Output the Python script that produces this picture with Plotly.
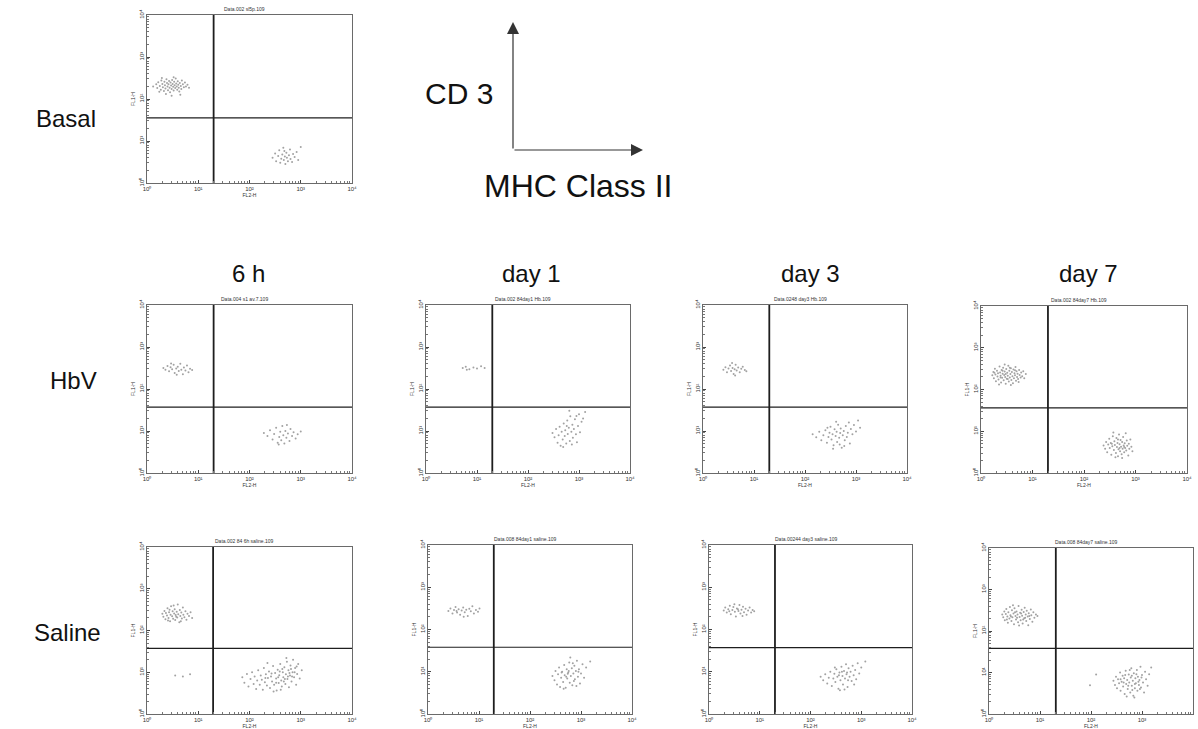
import plotly.graph_objects as go

# ---------------- data (log10 decades of fluorescence) ----------------
row_labels = ["Basal", "HbV", "Saline"]
col_labels = ["6 h", "day 1", "day 3", "day 7"]
tick_labels = ["10\u2070", "10\u00b9", "10\u00b2", "10\u00b3", "10\u2074"]
tick_values = [1, 10, 100, 1000, 10000]
x_axis_label = "FL2-H"
y_axis_label = "FL1-H"
arrow_y_label = "CD 3"
arrow_x_label = "MHC Class II"

panel_titles = [
    "Data.002 sl5p.109",
    "Data.004 s1 av.7.109",
    "Data.002 84day1 Hb.109",
    "Data.0248 day3 Hb.109",
    "Data.002 84day7 Hb.109",
    "Data.002 84 6h saline.109",
    "Data.008 84day1 saline.109",
    "Data.00244 day3 saline.109",
    "Data.008 84day7 saline.109",
]

# quadrant gates (log10 FL2, log10 FL1) per panel
gate_x = [1.30, 1.30, 1.30, 1.30, 1.30, 1.29, 1.29, 1.30, 1.31]
gate_y = [1.55, 1.57, 1.57, 1.57, 1.56, 1.57, 1.58, 1.57, 1.58]

basal_cd3 = [(0.12,2.30),(0.18,2.35),(0.20,2.26),(0.22,2.40),(0.25,2.31),(0.27,2.22),(0.28,2.44),(0.30,2.36),(0.31,2.28),(0.33,2.19),(0.34,2.41),(0.35,2.33),(0.36,2.25),(0.38,2.47),(0.39,2.38),(0.40,2.30),(0.41,2.21),(0.42,2.35),(0.43,2.43),(0.44,2.27),(0.45,2.16),(0.46,2.39),(0.47,2.32),(0.48,2.24),(0.49,2.45),(0.50,2.36),(0.51,2.29),(0.52,2.20),(0.53,2.41),(0.54,2.33),(0.55,2.26),(0.56,2.49),(0.57,2.37),(0.58,2.30),(0.59,2.22),(0.60,2.42),(0.61,2.34),(0.62,2.27),(0.63,2.18),(0.64,2.38),(0.66,2.31),(0.67,2.24),(0.68,2.44),(0.70,2.35),(0.72,2.28),(0.74,2.39),(0.76,2.30),(0.79,2.34),(0.82,2.27),(0.37,2.12),(0.48,2.08),(0.29,2.50),(0.52,2.52),(0.24,2.17),(0.65,2.10)]
basal_mhc = [(2.45,0.60),(2.50,0.70),(2.52,0.52),(2.56,0.64),(2.58,0.78),(2.60,0.48),(2.62,0.58),(2.64,0.68),(2.66,0.84),(2.67,0.55),(2.69,0.63),(2.70,0.45),(2.72,0.72),(2.73,0.60),(2.75,0.52),(2.77,0.66),(2.79,0.80),(2.80,0.57),(2.83,0.50),(2.85,0.69),(2.88,0.62),(2.92,0.74),(2.95,0.55),(3.00,0.86),(2.68,0.76)]

hbv6h_cd3 = [(0.32,2.50),(0.36,2.46),(0.40,2.55),(0.43,2.42),(0.46,2.52),(0.49,2.47),(0.52,2.58),(0.54,2.38),(0.57,2.49),(0.60,2.53),(0.62,2.43),(0.65,2.60),(0.67,2.46),(0.70,2.35),(0.72,2.51),(0.75,2.44),(0.78,2.56),(0.81,2.40),(0.84,2.48),(0.88,2.45),(0.58,2.34),(0.47,2.61)]
hbv6h_mhc = [(2.28,0.95),(2.35,0.88),(2.40,1.02),(2.45,0.80),(2.48,0.93),(2.52,1.08),(2.55,0.72),(2.58,0.86),(2.60,0.98),(2.62,0.78),(2.64,1.12),(2.66,0.90),(2.68,0.70),(2.70,1.00),(2.72,0.84),(2.75,0.94),(2.78,0.76),(2.80,1.05),(2.83,0.88),(2.86,0.97),(2.90,0.82),(2.94,0.92),(3.00,0.99),(2.57,0.68),(2.73,1.14)]

hbvd1_cd3 = [(0.72,2.50),(0.78,2.53),(0.85,2.47),(0.93,2.51),(1.00,2.49),(1.08,2.54),(1.15,2.50),(0.80,2.46)]
hbvd1_mhc = [(2.48,0.95),(2.52,0.85),(2.55,1.05),(2.58,0.72),(2.60,0.90),(2.62,1.10),(2.64,0.65),(2.66,0.98),(2.68,0.80),(2.70,1.18),(2.72,0.88),(2.73,1.02),(2.75,0.70),(2.77,1.25),(2.78,0.93),(2.80,1.08),(2.82,0.76),(2.83,1.35),(2.85,0.98),(2.87,1.15),(2.88,0.84),(2.90,1.05),(2.92,1.28),(2.94,0.92),(2.96,0.73),(2.98,1.12),(3.00,1.40),(3.02,0.97),(3.05,1.22),(3.08,1.30),(3.12,1.45),(2.81,1.48),(2.69,0.62),(2.95,1.36),(2.76,1.12),(2.86,0.68)]

hbvd3_cd3 = [(0.40,2.46),(0.44,2.52),(0.47,2.40),(0.50,2.49),(0.53,2.56),(0.55,2.43),(0.58,2.50),(0.60,2.36),(0.62,2.47),(0.64,2.58),(0.66,2.44),(0.69,2.51),(0.72,2.40),(0.75,2.48),(0.78,2.53),(0.82,2.45),(0.85,2.42),(0.57,2.62),(0.63,2.32)]
hbvd3_mhc = [(2.15,0.92),(2.22,0.85),(2.28,0.98),(2.32,0.78),(2.36,0.90),(2.40,1.02),(2.43,0.72),(2.46,0.86),(2.48,0.96),(2.50,1.10),(2.52,0.80),(2.54,0.92),(2.56,0.66),(2.58,1.04),(2.60,0.88),(2.62,0.98),(2.63,0.74),(2.65,1.15),(2.67,0.84),(2.69,0.95),(2.70,1.06),(2.72,0.60),(2.74,0.90),(2.76,1.00),(2.78,0.78),(2.80,1.12),(2.82,0.86),(2.84,0.96),(2.86,1.20),(2.88,0.70),(2.90,1.05),(2.93,0.92),(2.96,1.14),(3.00,0.99),(3.04,1.25),(3.08,1.08),(2.55,0.58),(2.68,0.68),(2.44,1.08),(2.77,0.64),(2.61,1.22)]

hbvd7_cd3 = [(0.22,2.34),(0.24,2.42),(0.25,2.27),(0.27,2.50),(0.28,2.36),(0.29,2.20),(0.31,2.45),(0.32,2.31),(0.33,2.39),(0.34,2.24),(0.36,2.55),(0.37,2.41),(0.38,2.33),(0.39,2.17),(0.40,2.47),(0.41,2.28),(0.42,2.38),(0.43,2.52),(0.44,2.22),(0.45,2.35),(0.46,2.43),(0.47,2.30),(0.48,2.14),(0.49,2.49),(0.50,2.26),(0.51,2.40),(0.52,2.33),(0.53,2.57),(0.54,2.19),(0.55,2.45),(0.56,2.29),(0.57,2.37),(0.58,2.51),(0.59,2.23),(0.60,2.42),(0.61,2.32),(0.62,2.15),(0.63,2.48),(0.64,2.27),(0.65,2.39),(0.66,2.34),(0.67,2.54),(0.68,2.21),(0.69,2.44),(0.70,2.30),(0.71,2.38),(0.72,2.25),(0.74,2.47),(0.75,2.35),(0.77,2.29),(0.78,2.41),(0.80,2.32),(0.82,2.44),(0.84,2.27),(0.87,2.37),(0.35,2.12),(0.46,2.60),(0.58,2.11),(0.26,2.40),(0.42,2.45),(0.52,2.25),(0.66,2.46),(0.73,2.18),(0.48,2.37),(0.38,2.29),(0.56,2.52)]
hbvd7_mhc = [(2.38,0.66),(2.41,0.58),(2.43,0.74),(2.45,0.50),(2.47,0.68),(2.49,0.82),(2.50,0.60),(2.52,0.72),(2.53,0.44),(2.55,0.64),(2.56,0.88),(2.58,0.55),(2.59,0.76),(2.60,0.67),(2.62,0.48),(2.63,0.84),(2.64,0.62),(2.65,0.72),(2.66,0.40),(2.67,0.57),(2.68,0.92),(2.69,0.69),(2.70,0.52),(2.71,0.79),(2.72,0.63),(2.73,0.45),(2.74,0.74),(2.75,0.58),(2.76,0.86),(2.77,0.66),(2.78,0.50),(2.79,0.71),(2.80,0.60),(2.81,0.95),(2.82,0.54),(2.83,0.78),(2.84,0.65),(2.86,0.42),(2.87,0.70),(2.88,0.58),(2.90,0.80),(2.92,0.63),(2.94,0.52),(2.61,0.38),(2.57,0.97),(2.74,0.36),(2.66,0.80),(2.69,0.60),(2.78,0.62),(2.54,0.70)]

sal6h_cd3 = [(0.30,2.40),(0.32,2.33),(0.34,2.47),(0.36,2.27),(0.37,2.42),(0.39,2.36),(0.40,2.53),(0.42,2.30),(0.43,2.44),(0.45,2.22),(0.46,2.38),(0.47,2.58),(0.49,2.34),(0.50,2.46),(0.51,2.28),(0.53,2.41),(0.54,2.51),(0.55,2.25),(0.56,2.37),(0.58,2.45),(0.59,2.31),(0.60,2.62),(0.61,2.39),(0.63,2.20),(0.64,2.49),(0.65,2.35),(0.67,2.43),(0.68,2.29),(0.70,2.55),(0.71,2.38),(0.73,2.32),(0.75,2.46),(0.77,2.26),(0.79,2.40),(0.82,2.35),(0.85,2.44),(0.88,2.30),(0.44,2.50),(0.57,2.33),(0.41,2.24),(0.52,2.60),(0.66,2.22)]
sal6h_mhc = [(1.86,0.88),(1.90,0.75),(1.95,0.96),(1.98,0.66),(2.02,0.84),(2.05,1.00),(2.08,0.72),(2.10,0.90),(2.13,0.60),(2.15,0.80),(2.17,1.05),(2.20,0.70),(2.22,0.92),(2.24,0.82),(2.26,0.58),(2.28,1.10),(2.30,0.76),(2.32,0.95),(2.34,0.68),(2.36,0.86),(2.38,1.02),(2.40,0.62),(2.42,0.90),(2.44,0.78),(2.46,1.15),(2.48,0.70),(2.50,0.98),(2.52,0.85),(2.53,0.56),(2.55,1.06),(2.57,0.74),(2.58,0.93),(2.60,1.20),(2.62,0.80),(2.63,0.66),(2.65,1.00),(2.66,0.88),(2.68,1.12),(2.70,0.72),(2.71,0.95),(2.73,1.25),(2.74,0.84),(2.76,1.05),(2.77,0.64),(2.79,0.92),(2.80,1.16),(2.82,0.78),(2.84,1.00),(2.85,1.30),(2.87,0.88),(2.89,1.10),(2.91,0.70),(2.93,0.96),(2.95,1.20),(2.98,0.85),(3.02,1.05),(2.35,1.22),(2.47,0.54),(2.61,0.58),(2.72,1.34),(2.56,0.88),(2.67,0.78),(2.78,0.98),(2.43,0.97),(2.31,0.86),(2.83,0.90),(2.69,0.84),(2.59,1.02),(2.88,1.00),(2.52,0.75),(2.64,1.08),(2.75,0.90),(2.92,1.14),(2.81,1.08),(0.55,0.92),(0.70,0.90),(0.84,0.95)]

sald1_cd3 = [(0.40,2.44),(0.44,2.50),(0.48,2.38),(0.51,2.46),(0.54,2.53),(0.57,2.40),(0.60,2.48),(0.63,2.35),(0.66,2.45),(0.69,2.52),(0.72,2.41),(0.75,2.47),(0.78,2.32),(0.81,2.49),(0.84,2.43),(0.87,2.55),(0.90,2.38),(0.94,2.46),(0.98,2.42),(1.01,2.50),(0.70,2.30),(0.56,2.44)]
sald1_mhc = [(2.44,0.90),(2.48,0.80),(2.50,1.02),(2.53,0.70),(2.55,0.94),(2.57,1.10),(2.59,0.64),(2.61,0.86),(2.63,1.00),(2.65,0.76),(2.67,1.16),(2.68,0.92),(2.70,0.62),(2.72,1.06),(2.73,0.84),(2.75,0.98),(2.77,1.22),(2.78,0.74),(2.80,0.90),(2.82,1.08),(2.83,0.68),(2.85,0.96),(2.87,1.14),(2.88,0.82),(2.90,1.02),(2.92,1.26),(2.94,0.88),(2.96,1.06),(2.98,0.72),(3.00,0.96),(3.03,1.18),(3.06,0.86),(3.10,1.10),(3.18,1.24),(2.79,1.34),(2.66,0.60),(2.91,0.66),(2.71,0.88),(2.84,1.20),(2.62,0.98),(2.76,1.02),(2.95,1.00),(2.86,0.78),(2.74,0.95)]

sald3_cd3 = [(0.29,2.45),(0.32,2.52),(0.35,2.40),(0.38,2.48),(0.41,2.56),(0.43,2.36),(0.46,2.46),(0.48,2.53),(0.51,2.42),(0.53,2.31),(0.55,2.50),(0.58,2.44),(0.60,2.58),(0.62,2.38),(0.64,2.47),(0.67,2.54),(0.69,2.41),(0.72,2.49),(0.74,2.35),(0.77,2.45),(0.80,2.52),(0.83,2.40),(0.86,2.46),(0.89,2.43),(0.50,2.60),(0.66,2.32),(0.40,2.43),(0.57,2.48)]
sald3_mhc = [(2.20,0.88),(2.25,0.80),(2.29,0.94),(2.33,0.72),(2.36,0.86),(2.39,1.00),(2.42,0.66),(2.45,0.84),(2.47,0.95),(2.49,0.76),(2.51,1.06),(2.53,0.88),(2.55,0.60),(2.57,0.98),(2.59,0.80),(2.61,1.12),(2.63,0.90),(2.64,0.70),(2.66,1.02),(2.68,0.84),(2.70,1.18),(2.71,0.94),(2.73,0.64),(2.75,1.08),(2.77,0.88),(2.79,1.00),(2.81,0.78),(2.83,1.14),(2.85,0.92),(2.88,1.04),(2.90,0.82),(2.93,1.20),(2.96,0.96),(3.00,1.10),(3.08,1.24),(2.58,0.56),(2.67,0.58),(2.48,1.10),(2.74,0.80),(2.62,1.00),(2.86,0.70),(2.72,0.98),(2.56,0.92)]

sald7_cd3 = [(0.26,2.40),(0.28,2.33),(0.30,2.47),(0.31,2.26),(0.33,2.41),(0.34,2.53),(0.36,2.35),(0.37,2.20),(0.38,2.45),(0.40,2.30),(0.41,2.58),(0.42,2.38),(0.44,2.24),(0.45,2.50),(0.46,2.33),(0.48,2.42),(0.49,2.16),(0.50,2.55),(0.52,2.36),(0.53,2.28),(0.54,2.47),(0.56,2.40),(0.57,2.21),(0.58,2.60),(0.60,2.34),(0.61,2.44),(0.62,2.26),(0.64,2.51),(0.65,2.37),(0.66,2.18),(0.68,2.46),(0.69,2.31),(0.70,2.56),(0.72,2.40),(0.73,2.24),(0.74,2.49),(0.76,2.35),(0.77,2.14),(0.78,2.43),(0.80,2.29),(0.82,2.52),(0.83,2.38),(0.85,2.22),(0.87,2.45),(0.89,2.32),(0.92,2.40),(0.95,2.36),(0.47,2.62),(0.59,2.13),(0.35,2.28),(0.63,2.42),(0.71,2.32),(0.51,2.45),(0.43,2.35),(0.79,2.36),(0.55,2.32),(0.67,2.28)]
sald7_mhc = [(2.44,0.80),(2.47,0.70),(2.49,0.90),(2.51,0.62),(2.53,0.84),(2.55,0.74),(2.57,1.00),(2.58,0.56),(2.60,0.78),(2.62,0.92),(2.63,0.66),(2.65,0.86),(2.66,0.48),(2.68,1.04),(2.69,0.72),(2.71,0.82),(2.72,0.60),(2.74,0.95),(2.75,0.76),(2.77,0.52),(2.78,0.88),(2.79,1.10),(2.80,0.68),(2.82,0.80),(2.83,0.44),(2.84,0.98),(2.86,0.62),(2.87,0.86),(2.88,0.74),(2.90,1.06),(2.91,0.56),(2.92,0.90),(2.94,0.70),(2.95,0.82),(2.97,1.14),(2.98,0.64),(3.00,0.94),(3.02,0.76),(3.04,0.52),(3.06,1.02),(3.08,0.84),(3.11,0.68),(3.14,0.96),(3.18,1.12),(2.70,0.42),(2.85,0.40),(2.76,1.06),(2.89,0.96),(2.64,0.76),(2.81,0.58),(2.93,0.78),(2.73,0.68),(2.99,0.88),(2.67,0.94),(2.96,0.60),(2.80,0.92),(2.86,0.72),(2.58,0.84),(1.98,0.69),(2.10,0.95)]

panel_events = [
    basal_cd3 + basal_mhc,
    hbv6h_cd3 + hbv6h_mhc,
    hbvd1_cd3 + hbvd1_mhc,
    hbvd3_cd3 + hbvd3_mhc,
    hbvd7_cd3 + hbvd7_mhc,
    sal6h_cd3 + sal6h_mhc,
    sald1_cd3 + sald1_mhc,
    sald3_cd3 + sald3_mhc,
    sald7_cd3 + sald7_mhc,
]

# ---------------- layout (pixel boxes of each dot plot: left, right, top, bottom) ----------------
W, H = 1198, 729
panel_boxes = [
    (147, 352, 15, 183),
    (147, 352, 305, 473), (426, 630, 305, 473), (703, 907, 305, 473), (981, 1187, 306, 473),
    (147, 352, 547, 714), (428, 632, 545, 714), (709, 912, 545, 714), (989, 1193, 548, 714),
]

FONT = "Liberation Sans, Arial, Helvetica, sans-serif"
DOT = "#a2a2a2"
GATE = "#1e1e1e"
FRAME = "#6a6a6a"

fig = go.Figure()
layout = dict(
    width=W, height=H, margin=dict(l=0, r=0, t=0, b=0, autoexpand=False),
    paper_bgcolor="white", plot_bgcolor="white", showlegend=False,
    font=dict(family=FONT, color="#111"),
)
annotations = []

for i, (events, box) in enumerate(zip(panel_events, panel_boxes)):
    k = i + 1
    xa = "x" if k == 1 else f"x{k}"
    ya = "y" if k == 1 else f"y{k}"
    xs = [10 ** p[0] for p in events]
    ys = [10 ** p[1] for p in events]
    fig.add_trace(go.Scatter(x=xs, y=ys, mode="markers", xaxis=xa, yaxis=ya,
                             marker=dict(size=2, color=DOT, line=dict(width=0)),
                             hoverinfo="skip"))
    gx, gy = 10 ** gate_x[i], 10 ** gate_y[i]
    fig.add_trace(go.Scatter(x=[gx, gx], y=[1, 10000], mode="lines", xaxis=xa, yaxis=ya,
                             line=dict(color=GATE, width=1.8), hoverinfo="skip"))
    fig.add_trace(go.Scatter(x=[1, 10000], y=[gy, gy], mode="lines", xaxis=xa, yaxis=ya,
                             line=dict(color=GATE, width=1.2), hoverinfo="skip"))
    l, r, t, b = box
    common = dict(type="log", range=[0, 4], showgrid=False, zeroline=False,
                  showline=True, mirror=True, linecolor=FRAME, linewidth=1,
                  ticks="inside", ticklen=3, tickcolor="#444",
                  tickmode="array", tickvals=tick_values, ticktext=tick_labels,
                  tickfont=dict(size=6, color="#333"), automargin=False,
                  minor=dict(ticks="inside", ticklen=2, tickcolor="#777", dtick="D1", showgrid=False),
                  fixedrange=True)
    xname = "xaxis" if k == 1 else f"xaxis{k}"
    yname = "yaxis" if k == 1 else f"yaxis{k}"
    layout[xname] = dict(common, domain=[l / W, r / W], anchor=ya,
                         title=dict(text=x_axis_label, font=dict(size=5, color="#333"), standoff=1))
    layout[yname] = dict(common, domain=[1 - b / H, 1 - t / H], anchor=xa, tickangle=-90,
                         title=dict(text=y_axis_label, font=dict(size=5, color="#333"), standoff=1))
    annotations.append(dict(text=panel_titles[i], xref="paper", yref="paper",
                            x=(l + r) / 2 / W - 0.004, y=1 - (t - 1) / H, xanchor="center", yanchor="bottom",
                            showarrow=False, font=dict(size=5, color="#333")))

# row labels
row_pos = [(66, 118), (73, 381), (67, 632)]
for txt, (px, py) in zip(row_labels, row_pos):
    annotations.append(dict(text=txt, xref="paper", yref="paper", x=px / W, y=1 - py / H,
                            xanchor="center", yanchor="middle", showarrow=False,
                            font=dict(size=24, color="#111")))
# column labels
col_pos = [248, 531, 810, 1088]
for txt, px in zip(col_labels, col_pos):
    annotations.append(dict(text=txt, xref="paper", yref="paper", x=px / W, y=1 - 274 / H,
                            xanchor="center", yanchor="middle", showarrow=False,
                            font=dict(size=24, color="#111")))

# axis key (arrows)
annotations.append(dict(text="", xref="paper", yref="paper", x=513 / W, y=1 - 22 / H,
                        ax=0, ay=128, showarrow=True, arrowhead=2, arrowsize=2.0,
                        arrowwidth=1.2, arrowcolor="#333", standoff=0))
annotations.append(dict(text="", xref="paper", yref="paper", x=643 / W, y=1 - 150 / H,
                        ax=-130, ay=0, showarrow=True, arrowhead=2, arrowsize=2.0,
                        arrowwidth=1.2, arrowcolor="#333", standoff=0))
annotations.append(dict(text=arrow_y_label, xref="paper", yref="paper", x=459 / W, y=1 - 94 / H,
                        xanchor="center", yanchor="middle", showarrow=False,
                        font=dict(size=30, color="#111")))
annotations.append(dict(text=arrow_x_label, xref="paper", yref="paper", x=578 / W, y=1 - 186 / H,
                        xanchor="center", yanchor="middle", showarrow=False,
                        font=dict(size=32, color="#111")))

layout["annotations"] = annotations
fig.update_layout(**layout)
fig.write_html("out.html", config={"displayModeBar": False},
               post_script="document.body.style.margin='0px';document.body.style.overflow='hidden';")
